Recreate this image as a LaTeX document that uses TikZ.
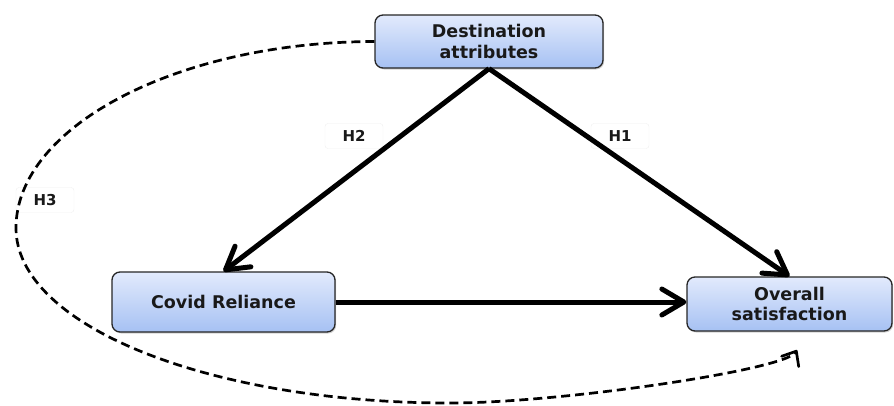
\documentclass[tikz,border=0pt]{standalone}
\usepackage{fontspec}
\setmainfont{DejaVu Sans}
\usetikzlibrary{arrows.meta,shadows}
\definecolor{boxtop}{HTML}{E2EAFC}
\definecolor{boxbot}{HTML}{A6C1F3}
\begin{document}
\begin{tikzpicture}[x=1pt,y=-1pt,
  cbox/.style={draw=black!85, line width=1.3pt, rounded corners=8pt,
    top color=boxtop, bottom color=boxbot, align=center,
    font=\fontsize{17.5}{20.5}\selectfont\bfseries, text=black!90, inner sep=0pt,
    drop shadow={shadow xshift=1.2pt, shadow yshift=-1.5pt, opacity=0.35}},
  hlabel/.style={fill=white, draw=black!6, rounded corners=3pt,
    font=\fontsize{15}{17}\selectfont\bfseries, text=black!90,
    minimum width=58pt, minimum height=25pt, inner sep=0pt},
  solidarrow/.style={line width=5pt,
    -{Straight Barb[length=22pt,width=26pt,line cap=round,line join=round]}},
  dasharrow/.style={line width=2.7pt, dash pattern=on 9pt off 5pt,
    -{Straight Barb[length=12pt,width=20pt,line cap=round,line join=round]}}
]
\useasboundingbox (0,0) rectangle (894,405);
\node[cbox, minimum width=228pt, minimum height=53pt] (dest) at (489,41.5) {Destination\\attributes};
\node[cbox, minimum width=223pt, minimum height=60pt] (covid) at (223.5,302) {Covid Reliance};
\node[cbox, minimum width=205pt, minimum height=54pt] (overall) at (789.5,304) {Overall\\satisfaction};

\node[hlabel] (h2) at (354,136) {H2};
\node[hlabel] (h1) at (620,136) {H1};
\node[hlabel] (h3) at (45,200) {H3};

\coordinate (h3left) at (16,228);
\coordinate (h3bottom) at (450,403);
\coordinate (h3end) at (797,350);

\draw[solidarrow] (dest.south) -- (covid.north);
\draw[solidarrow] (dest.south) -- (overall.north);
\draw[solidarrow] (covid.east) -- (overall.west |- covid.east);

\draw[dasharrow] (dest.west) .. controls (177,42) and (16,127) .. (h3left)
  .. controls (16,326) and (210,403) .. (h3bottom)
  .. controls (560,403) and (785,370) .. (h3end);
\end{tikzpicture}
\end{document}
